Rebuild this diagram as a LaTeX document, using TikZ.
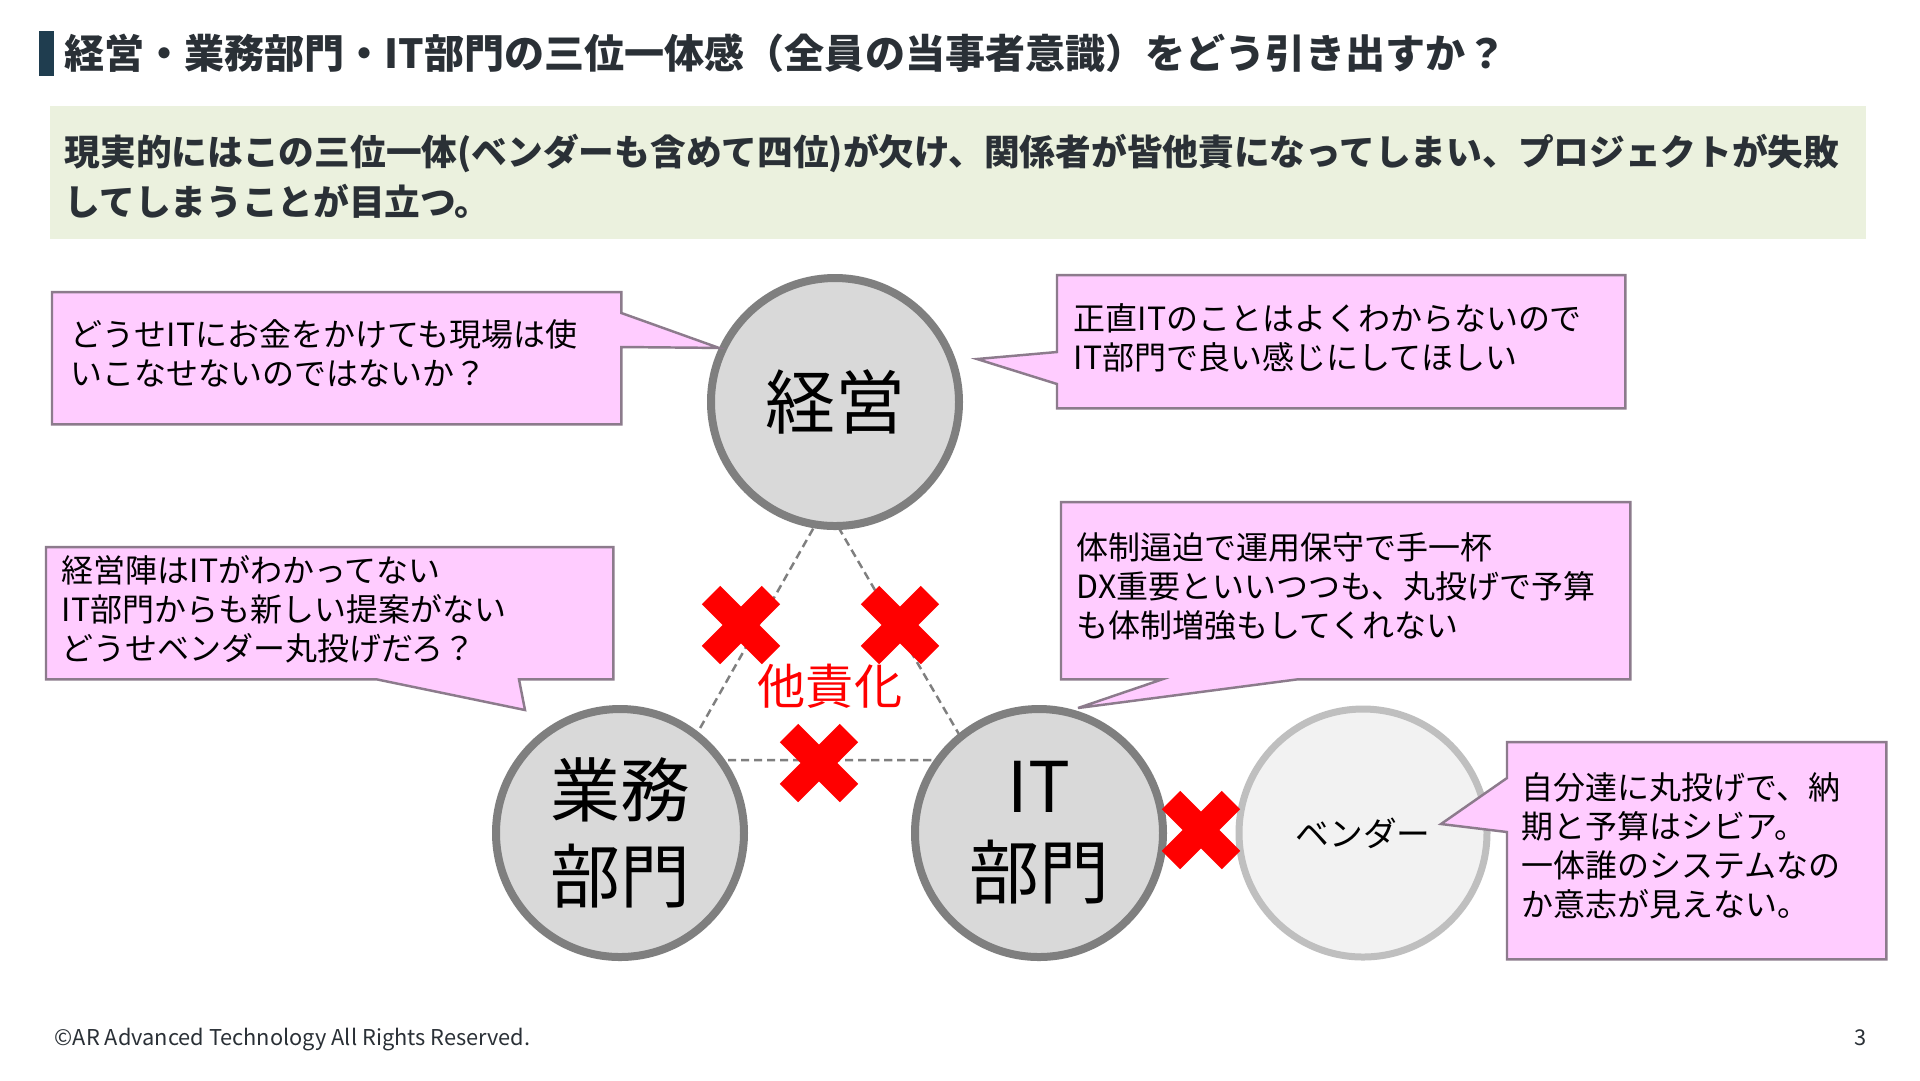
\documentclass[tikz,border=0pt]{standalone}
\usepackage{fontspec}
\setmainfont{Noto Sans CJK JP}
\usetikzlibrary{calc,positioning}
\definecolor{TitleBar}{HTML}{1F3D4F}
\definecolor{TitleInk}{HTML}{2A3036}
\definecolor{LeadBack}{HTML}{EBF1DE}
\definecolor{CallFill}{HTML}{FFCCFF}
\definecolor{CallLine}{HTML}{8C7B8C}
\definecolor{RoleFill}{HTML}{D9D9D9}
\definecolor{RoleLine}{HTML}{7F7F7F}
\definecolor{VendFill}{HTML}{F2F2F2}
\definecolor{VendLine}{HTML}{BFBFBF}
\pgfdeclarelayer{back}
\pgfdeclarelayer{bubble}
\pgfsetlayers{back,bubble,main}
\tikzset{
  role/.style={circle,draw=RoleLine,fill=RoleFill,line width=0.8mm,minimum size=24.8mm,
    inner sep=0pt,align=center,font=\fontsize{19.9}{24.5}\selectfont},
  vendor/.style={role,draw=VendLine,fill=VendFill,line width=0.7mm,font=\fontsize{9.6}{11}\selectfont},
  bubblebox/.style={anchor=north west,inner sep=0pt},
  saying/.style={anchor=west,inner sep=0pt,align=left,font=\fontsize{9.1}{11.1}\selectfont},
  bubbleline/.style={draw=CallLine,fill=CallFill,line width=0.7pt,line join=miter},
  blame/.style={draw=RoleLine,line width=0.7pt,dash pattern=on 2.3pt off 1.4pt},
  batsu/.pic={\draw[red,line width=2.6mm] (-30,-30) -- (30,30) (-30,30) -- (30,-30);}
}

\begin{document}
\begin{tikzpicture}[x=0.1mm,y=-0.1mm]
\useasboundingbox (0,0) rectangle (1920,1080);

\node[fill=TitleBar,minimum width=1.5mm,minimum height=4.5mm,inner sep=0pt,anchor=north west] (bar) at (38,30) {};
\node[right=0.9mm of bar,inner sep=0pt,text=TitleInk,font=\fontsize{11.4}{13}\selectfont\bfseries] (title)
  {経営・業務部門・IT部門の三位一体感（全員の当事者意識）をどう引き出すか？};

\node[fill=LeadBack,minimum width=181.6mm,minimum height=13.3mm,inner sep=0pt,anchor=north west] (lead) at (49,105) {};
\node[anchor=west,inner sep=0pt,align=left,text=TitleInk,font=\fontsize{10.16}{14.2}\selectfont\bfseries] (leadtext) at (64,176)
  {現実的にはこの三位一体(ベンダーも含めて四位)が欠け、関係者が皆他責になってしまい、プロジェクトが失敗\\してしまうことが目立つ。};

\begin{pgfonlayer}{back}
\fill[white] (0,0) rectangle (1920,1080);
\coordinate (tri top) at (826,506);
\coordinate (tri left) at (682,760);
\coordinate (tri right) at (974,760);
\draw[blame] (tri top) -- (tri left) -- (tri right) -- cycle;
\node[role] (keiei) at (835,402) {経営};
\node[role] (gyomu) at (620,833) {業務\\部門};
\node[role] (it) at (1039,833) {IT\\部門};
\node[vendor] (vendor) at (1363,833) {ベンダー};
\pic at (741,625) {batsu};
\pic at (900,625) {batsu};
\pic at (819,763) {batsu};
\pic at (1201,830) {batsu};
\end{pgfonlayer}

\node[text=red,inner sep=0pt,font=\fontsize{13.7}{16}\selectfont] (blametext) at (830,686) {他責化};

\node[bubblebox,minimum width=56.8mm,minimum height=13.1mm] (c1) at (52,292) {};
\node[bubblebox,minimum width=56.7mm,minimum height=13.2mm] (c2) at (1057,275) {};
\node[bubblebox,minimum width=56.6mm,minimum height=13.1mm] (c3) at (46,547) {};
\node[bubblebox,minimum width=56.8mm,minimum height=17.6mm] (c4) at (1061,502) {};
\node[bubblebox,minimum width=37.8mm,minimum height=21.6mm] (c5) at (1507,742) {};

\node[saying] (c1text) at ($(c1.west)+(18,-5)$) {どうせITにお金をかけても現場は使\\いこなせないのではないか？};
\node[saying] (c2text) at ($(c2.west)+(16,-4)$) {正直ITのことはよくわからないので\\IT部門で良い感じにしてほしい};
\node[saying] (c3text) at ($(c3.west)+(15,-4)$) {経営陣はITがわかってない\\IT部門からも新しい提案がない\\どうせベンダー丸投げだろ？};
\node[saying] (c4text) at ($(c4.west)+(15,-4)$) {体制逼迫で運用保守で手一杯\\DX重要といいつつも、丸投げで予算\\も体制増強もしてくれない};
\node[saying] (c5text) at ($(c5.west)+(14,-5)$) {自分達に丸投げで、納\\期と予算はシビア。\\一体誰のシステムなの\\か意志が見えない。};

\coordinate (t2) at (977,359);
\coordinate (t3) at (525,710);
\coordinate (t4) at (1078,708);
\coordinate (t5) at (1441,824);

\begin{pgfonlayer}{bubble}
\draw[bubbleline] (c1.north west) -- (c1.north east) -- ($(c1.north east)+(0,21)$) -- (keiei.155)
  -- ($(c1.north east)+(0,55)$) -- (c1.south east) -- (c1.south west) -- cycle;
\draw[bubbleline] (c2.north west) -- (c2.north east) -- (c2.south east) -- (c2.south west)
  -- ($(c2.north west)+(0,109)$) -- (t2) -- ($(c2.north west)+(0,77)$) -- cycle;
\draw[bubbleline] (c3.north west) -- (c3.north east) -- (c3.south east) -- ($(c3.south west)+(473,0)$)
  -- (t3) -- ($(c3.south west)+(331,0)$) -- (c3.south west) -- cycle;
\draw[bubbleline] (c4.north west) -- (c4.north east) -- (c4.south east) -- ($(c4.south west)+(236,0)$)
  -- (t4) -- ($(c4.south west)+(101,0)$) -- (c4.south west) -- cycle;
\draw[bubbleline] (c5.north west) -- (c5.north east) -- (c5.south east) -- (c5.south west)
  -- ($(c5.north west)+(0,90)$) -- (t5) -- ($(c5.north west)+(0,36)$) -- cycle;
\end{pgfonlayer}

\node[anchor=west,inner sep=0pt,text=TitleInk,font=\fontsize{6.2}{7}\selectfont] (footer) at (54,1040)
  {©AR Advanced Technology All Rights Reserved.};
\node[inner sep=0pt,text=TitleInk,font=\fontsize{6.2}{7}\selectfont] (pageno) at (1861,1038) {3};
\end{tikzpicture}
\end{document}
